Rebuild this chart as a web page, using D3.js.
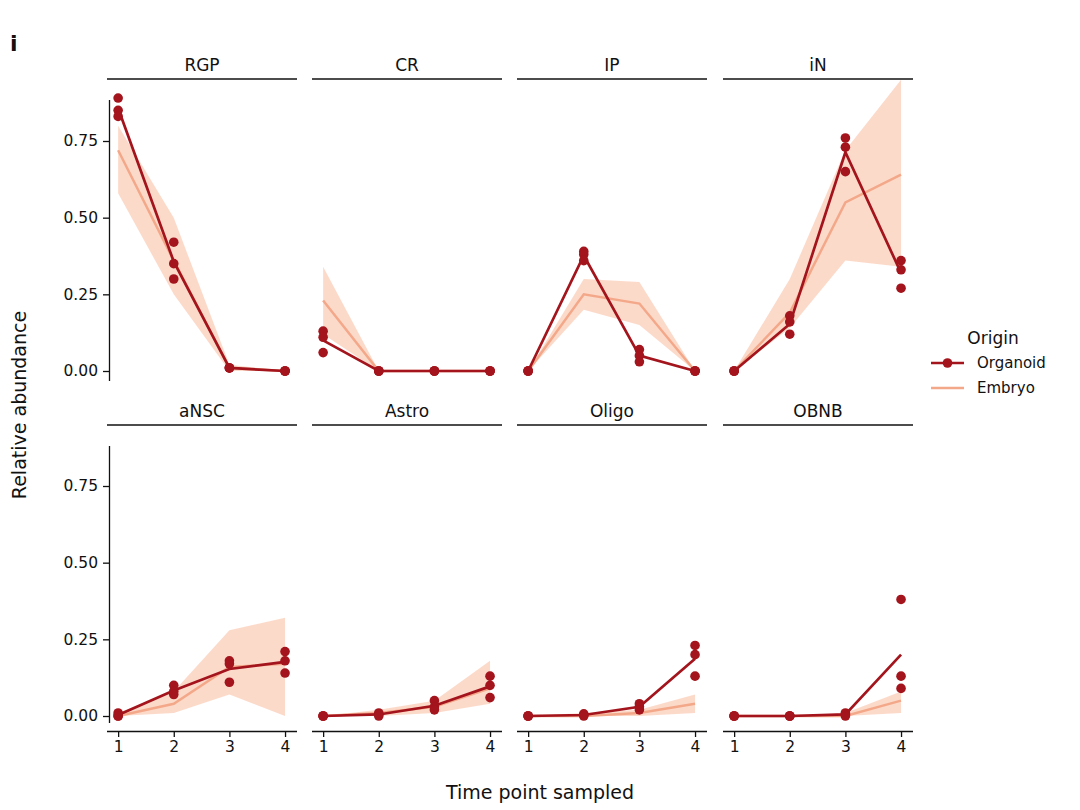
<!DOCTYPE html>
<html>
<head>
<meta charset="utf-8">
<script src="https://cdn.jsdelivr.net/npm/d3@7"></script>
<style>
  body { margin: 0; background: #fff; }
  text { font-family: "DejaVu Sans", sans-serif; fill: #111; }
</style>
</head>
<body>
<svg id="chart" width="1080" height="810"></svg>
<script>
const timePoints = [1, 2, 3, 4];
const cellTypes = ["RGP", "CR", "IP", "iN", "aNSC", "Astro", "Oligo", "OBNB"];
const yTicks = [0, 0.25, 0.5, 0.75];

// organoid replicates, per cell type, per time point
const organoidReps = {
  RGP:   [[0.89, 0.85, 0.83], [0.42, 0.35, 0.30], [0.01, 0.01, 0.01], [0, 0, 0]],
  CR:    [[0.13, 0.11, 0.06], [0, 0, 0], [0, 0, 0], [0, 0, 0]],
  IP:    [[0, 0, 0], [0.39, 0.38, 0.36], [0.07, 0.05, 0.03], [0, 0, 0]],
  iN:    [[0, 0, 0], [0.18, 0.16, 0.12], [0.76, 0.73, 0.65], [0.36, 0.33, 0.27]],
  aNSC:  [[0.01, 0, 0], [0.10, 0.08, 0.07], [0.18, 0.17, 0.11], [0.21, 0.18, 0.14]],
  Astro: [[0, 0, 0], [0.01, 0.005, 0], [0.05, 0.03, 0.02], [0.13, 0.10, 0.06]],
  Oligo: [[0, 0, 0], [0.007, 0.003, 0], [0.04, 0.03, 0.02], [0.23, 0.20, 0.13]],
  OBNB:  [[0, 0, 0], [0, 0, 0], [0.01, 0.005, 0], [0.38, 0.13, 0.09]]
};

// embryo mean and band
const embryoMean = {
  RGP: [0.72, 0.36, 0.01, 0], CR: [0.23, 0, 0, 0], IP: [0, 0.25, 0.22, 0], iN: [0, 0.19, 0.55, 0.64],
  aNSC: [0, 0.04, 0.16, 0.17], Astro: [0, 0.01, 0.03, 0.09], Oligo: [0, 0, 0.01, 0.04], OBNB: [0, 0, 0, 0.05]
};
const embryoLow = {
  RGP: [0.58, 0.25, 0, 0], CR: [0.12, 0, 0, 0], IP: [0, 0.20, 0.15, 0], iN: [0, 0.14, 0.36, 0.34],
  aNSC: [0, 0.01, 0.07, 0], Astro: [0, 0, 0.01, 0.04], Oligo: [0, 0, 0, 0.01], OBNB: [0, 0, 0, 0.01]
};
const embryoHigh = {
  RGP: [0.80, 0.50, 0.02, 0], CR: [0.34, 0, 0, 0], IP: [0, 0.30, 0.29, 0], iN: [0, 0.30, 0.72, 0.95],
  aNSC: [0.01, 0.08, 0.28, 0.32], Astro: [0, 0.02, 0.05, 0.18], Oligo: [0, 0.01, 0.02, 0.07], OBNB: [0, 0, 0.01, 0.08]
};

const orgColor = "#a3141c", embColor = "#f4a88a", bandColor = "#fcd3c1";

const svg = d3.select("#chart");
const colX = [107, 312, 517, 723], panelW = 190;
const rowZero = [371, 716];
const unit = (371 - 141) / 0.75;

svg.append("text").attr("x", 10).attr("y", 51).attr("font-size", 22).attr("font-weight", "bold").text("i");

cellTypes.forEach((ct, i) => {
  const col = i % 4, row = Math.floor(i / 4);
  const x0 = colX[col];
  const x = d3.scaleLinear().domain([0.8, 4.215]).range([x0, x0 + panelW]);
  const y = d3.scaleLinear().domain([0, 0.75]).range([rowZero[row], rowZero[row] - 0.75 * unit]);
  const g = svg.append("g");

  // strip title
  const stripY = row === 0 ? 79 : 425;
  g.append("line").attr("x1", x0).attr("x2", x0 + panelW).attr("y1", stripY).attr("y2", stripY)
    .attr("stroke", "#111").attr("stroke-width", 1.3);
  g.append("text").attr("x", x0 + panelW / 2).attr("y", stripY - 8).attr("text-anchor", "middle")
    .attr("font-size", 17).text(ct);

  // band
  const band = timePoints.map((t, k) => ({ t, lo: embryoLow[ct][k], hi: embryoHigh[ct][k] }));
  g.append("path").datum(band)
    .attr("d", d3.area().x(d => x(d.t)).y0(d => y(d.lo)).y1(d => y(d.hi)))
    .attr("fill", bandColor).attr("opacity", 0.85);
  g.append("path").datum(timePoints.map((t, k) => [t, embryoMean[ct][k]]))
    .attr("d", d3.line().x(d => x(d[0])).y(d => y(d[1])))
    .attr("fill", "none").attr("stroke", embColor).attr("stroke-width", 2.5);

  // organoid mean line
  const means = timePoints.map((t, k) => [t, d3.mean(organoidReps[ct][k])]);
  g.append("path").datum(means)
    .attr("d", d3.line().x(d => x(d[0])).y(d => y(d[1])))
    .attr("fill", "none").attr("stroke", orgColor).attr("stroke-width", 2.7);
  const pts = [];
  timePoints.forEach((t, k) => organoidReps[ct][k].forEach(v => pts.push([t, v])));
  g.selectAll("circle").data(pts).join("circle")
    .attr("cx", d => x(d[0])).attr("cy", d => y(d[1])).attr("r", 4.8).attr("fill", orgColor);

  // y axis in first column
  if (col === 0) {
    const yTop = row === 0 ? 100 : 446;
    const yBot = row === 0 ? 381 : 723;
    const ya = g.append("g").attr("transform", `translate(${x0 + 2},0)`)
      .call(d3.axisLeft(y).tickValues(yTicks).tickFormat(d3.format(".2f")).tickSize(6).tickPadding(5));
    ya.select(".domain").remove();
    ya.append("line").attr("x1", 0.5).attr("x2", 0.5).attr("y1", yTop).attr("y2", yBot)
      .attr("stroke", "#111").attr("stroke-width", 1.3);
    ya.selectAll(".tick line").attr("stroke", "#111").attr("stroke-width", 1.3);
    ya.selectAll(".tick text").attr("font-size", 15.5).attr("fill", "#111").style("font-family", "DejaVu Sans");
  }
  // x axis in bottom row
  if (row === 1) {
    const xa = g.append("g").attr("transform", "translate(0,731)")
      .call(d3.axisBottom(x).tickValues(timePoints).tickFormat(d3.format("d")).tickSize(6).tickPadding(4));
    xa.select(".domain").remove();
    xa.append("line").attr("x1", x0).attr("x2", x0 + panelW).attr("y1", 0.5).attr("y2", 0.5)
      .attr("stroke", "#111").attr("stroke-width", 1.3);
    xa.selectAll(".tick line").attr("stroke", "#111").attr("stroke-width", 1.3);
    xa.selectAll(".tick text").attr("font-size", 15.5).attr("fill", "#111").style("font-family", "DejaVu Sans");
  }
});

svg.append("text").attr("transform", "translate(26,405) rotate(-90)").attr("text-anchor", "middle")
  .attr("font-size", 19).text("Relative abundance");
svg.append("text").attr("x", 540).attr("y", 799).attr("text-anchor", "middle")
  .attr("font-size", 19).text("Time point sampled");

// legend
const leg = svg.append("g");
leg.append("text").attr("x", 993).attr("y", 344).attr("text-anchor", "middle").attr("font-size", 17).text("Origin");
const legItems = [["Organoid", orgColor, true], ["Embryo", embColor, false]];
legItems.forEach(([name, c, dot], k) => {
  const yy = 363 + k * 25;
  leg.append("line").attr("x1", 931).attr("x2", 964).attr("y1", yy).attr("y2", yy)
    .attr("stroke", c).attr("stroke-width", 2.6);
  if (dot) leg.append("circle").attr("cx", 947.5).attr("cy", yy).attr("r", 4.8).attr("fill", c);
  leg.append("text").attr("x", 977).attr("y", yy + 5).attr("font-size", 15).text(name);
});
</script>
</body>
</html>
